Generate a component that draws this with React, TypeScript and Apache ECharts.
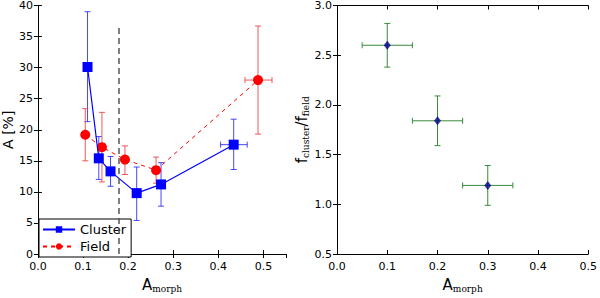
import React, { useEffect, useRef } from "react";
import * as echarts from "echarts";

const clusterX = [0.110, 0.135, 0.161, 0.219, 0.273, 0.434];
const clusterY = [30.1, 15.4, 13.3, 9.8, 11.2, 17.6];
const clusterYLo = [21.3, 12.0, 10.9, 5.4, 7.7, 13.6];
const clusterYHi = [39.0, 18.9, 15.7, 14.0, 14.7, 21.7];
const clusterXLo = [0.110, 0.135, 0.161, 0.219, 0.273, 0.405];
const clusterXHi = [0.110, 0.135, 0.161, 0.219, 0.273, 0.464];

const fieldX = [0.105, 0.142, 0.193, 0.262, 0.488];
const fieldY = [19.2, 17.2, 15.2, 13.5, 28.0];
const fieldYLo = [15.0, 11.6, 12.8, 11.4, 19.3];
const fieldYHi = [23.4, 22.8, 17.4, 15.6, 36.7];
const fieldXLo = [0.105, 0.142, 0.193, 0.262, 0.459];
const fieldXHi = [0.105, 0.142, 0.193, 0.262, 0.519];

const thresholdX = 0.179;
const thresholdTop = 36.4;

const ratioX = [0.1, 0.2, 0.3];
const ratioY = [2.6, 1.84, 1.19];
const ratioYLo = [2.38, 1.59, 0.99];
const ratioYHi = [2.82, 2.09, 1.39];
const ratioXLo = [0.05, 0.15, 0.25];
const ratioXHi = [0.15, 0.25, 0.35];

const FONT = "DejaVu Sans";
const SERIF = "DejaVu Serif";

function errData(x: number[], y: number[], xlo: number[], xhi: number[], ylo: number[], yhi: number[]) {
  return x.map((v, i) => [v, y[i], xlo[i], xhi[i], ylo[i], yhi[i]]);
}

function makeRender(color: string, cap: number) {
  return (params: any, api: any) => {
    const x = api.value(0), y = api.value(1);
    const xlo = api.value(2), xhi = api.value(3), ylo = api.value(4), yhi = api.value(5);
    const style = { stroke: color, lineWidth: 1 };
    const children: any[] = [];
    const t = api.coord([x, yhi]);
    const b = api.coord([x, ylo]);
    children.push({ type: "line", shape: { x1: t[0], y1: t[1], x2: b[0], y2: b[1] }, style });
    children.push({ type: "line", shape: { x1: t[0] - cap, y1: t[1], x2: t[0] + cap, y2: t[1] }, style });
    children.push({ type: "line", shape: { x1: b[0] - cap, y1: b[1], x2: b[0] + cap, y2: b[1] }, style });
    if (xhi > xlo) {
      const l = api.coord([xlo, y]);
      const r = api.coord([xhi, y]);
      children.push({ type: "line", shape: { x1: l[0], y1: l[1], x2: r[0], y2: r[1] }, style });
      children.push({ type: "line", shape: { x1: l[0], y1: l[1] - cap, x2: l[0], y2: l[1] + cap }, style });
      children.push({ type: "line", shape: { x1: r[0], y1: r[1] - cap, x2: r[0], y2: r[1] + cap }, style });
    }
    return { type: "group", children };
  };
}

const tickLabel = { fontFamily: FONT, fontSize: 11, color: "#000" };
const axisLine = { show: true, lineStyle: { color: "#000", width: 1 } };
const axisTick = { show: true, inside: true, length: 4, lineStyle: { color: "#000" } };

export default function App() {
  const ref = useRef<HTMLDivElement>(null);
  useEffect(() => {
    if (!ref.current) return;
    const chart = echarts.init(ref.current, null, { renderer: "svg" });
    const xName = {
      name: "{a|A}{s|morph}",
      nameLocation: "middle",
      nameGap: 22,
      nameTextStyle: {
        rich: {
          a: { fontFamily: FONT, fontSize: 15, color: "#000" },
          s: { fontFamily: SERIF, fontSize: 9, color: "#000", padding: [8, 0, 0, 0] },
        },
      },
    };
    chart.setOption({
      animation: false,
      backgroundColor: "#fff",
      grid: [
        { left: 34, top: 5, width: 252, height: 257 },
        { left: 337, top: 5, width: 253, height: 257 },
      ],
      xAxis: [
        {
          type: "value", gridIndex: 0, min: 0, max: 0.55, interval: 0.1,
          axisLine, axisTick, splitLine: { show: false },
          axisLabel: { ...tickLabel, margin: 7, formatter: (v: number) => v.toFixed(1), showMaxLabel: false },
          ...xName,
        },
        {
          type: "value", gridIndex: 0, min: 0, max: 0.55, interval: 0.1, position: "top",
          axisLine, axisTick, splitLine: { show: false }, axisLabel: { show: false },
        },
        {
          type: "value", gridIndex: 1, min: 0, max: 0.5, interval: 0.1,
          axisLine, axisTick, splitLine: { show: false },
          axisLabel: { ...tickLabel, margin: 7, formatter: (v: number) => v.toFixed(1) },
          ...xName,
        },
        {
          type: "value", gridIndex: 1, min: 0, max: 0.5, interval: 0.1, position: "top",
          axisLine, axisTick, splitLine: { show: false }, axisLabel: { show: false },
        },
      ],
      yAxis: [
        {
          type: "value", gridIndex: 0, min: 0, max: 40, interval: 5,
          axisLine, axisTick, splitLine: { show: false },
          axisLabel: { ...tickLabel, margin: 5 },
          name: "A [%]", nameLocation: "middle", nameGap: 18,
          nameTextStyle: { fontFamily: FONT, fontSize: 14, color: "#000" },
        },
        {
          type: "value", gridIndex: 0, min: 0, max: 40, interval: 5, position: "right",
          axisLine, axisTick, splitLine: { show: false }, axisLabel: { show: false },
        },
        {
          type: "value", gridIndex: 1, min: 0.5, max: 3.0, interval: 0.5,
          axisLine, axisTick, splitLine: { show: false },
          axisLabel: { ...tickLabel, margin: 5, formatter: (v: number) => v.toFixed(1) },
          name: "{a|f}{s|cluster}{a|/f}{s|field}", nameLocation: "middle", nameGap: 26,
          nameTextStyle: {
            rich: {
              a: { fontFamily: FONT, fontSize: 15, color: "#000" },
              s: { fontFamily: SERIF, fontSize: 9, color: "#000", padding: [8, 0, 0, 0] },
            },
          },
        },
        {
          type: "value", gridIndex: 1, min: 0.5, max: 3.0, interval: 0.5, position: "right",
          axisLine, axisTick, splitLine: { show: false }, axisLabel: { show: false },
        },
      ],
      legend: {
        left: 39, top: 219, orient: "vertical",
        backgroundColor: "#fff", borderColor: "#000", borderWidth: 1, borderRadius: 0,
        padding: [4, 5, 4, 3], itemGap: 4, itemWidth: 32, itemHeight: 8,
        textStyle: { fontFamily: FONT, fontSize: 13, color: "#000" },
        data: ["Cluster", "Field"],
      },
      series: [
        {
          type: "custom", name: "clusterErr", xAxisIndex: 0, yAxisIndex: 0,
          renderItem: makeRender("rgba(40,40,255,0.85)", 3),
          data: errData(clusterX, clusterY, clusterXLo, clusterXHi, clusterYLo, clusterYHi),
          encode: { x: 0, y: 1 }, z: 2,
        },
        {
          type: "custom", name: "fieldErr", xAxisIndex: 0, yAxisIndex: 0,
          renderItem: makeRender("rgba(235,60,60,0.85)", 3),
          data: errData(fieldX, fieldY, fieldXLo, fieldXHi, fieldYLo, fieldYHi),
          encode: { x: 0, y: 1 }, z: 2,
        },
        {
          type: "line", name: "Field", xAxisIndex: 0, yAxisIndex: 0,
          data: fieldX.map((v, i) => [v, fieldY[i]]),
          symbol: "circle", symbolSize: 10,
          itemStyle: { color: "#ff0000" },
          lineStyle: { color: "#ff0000", width: 1, type: [4, 4] },
          z: 3,
          markLine: {
            silent: true, symbol: "none", label: { show: false },
            lineStyle: { color: "#555", type: [6, 4], width: 1.5 },
            data: [[{ coord: [thresholdX, 0] }, { coord: [thresholdX, thresholdTop] }]],
          },
        },
        {
          type: "line", name: "Cluster", xAxisIndex: 0, yAxisIndex: 0,
          data: clusterX.map((v, i) => [v, clusterY[i]]),
          symbol: "rect", symbolSize: 10,
          itemStyle: { color: "#0000ff" },
          lineStyle: { color: "#0000ff", width: 1.2 },
          z: 4,
        },
        {
          type: "custom", name: "ratioErr", xAxisIndex: 2, yAxisIndex: 2,
          renderItem: makeRender("#3a8a3a", 3),
          data: errData(ratioX, ratioY, ratioXLo, ratioXHi, ratioYLo, ratioYHi),
          encode: { x: 0, y: 1 }, z: 2,
        },
        {
          type: "scatter", name: "ratio", xAxisIndex: 2, yAxisIndex: 2,
          data: ratioX.map((v, i) => [v, ratioY[i]]),
          symbol: "diamond", symbolSize: [7, 9],
          itemStyle: { color: "#00008b" },
          z: 3,
        },
      ],
    });
    return () => chart.dispose();
  }, []);
  return <div ref={ref} style={{ width: 600, height: 298, position: "absolute", left: 0, top: 0 }} />;
}
